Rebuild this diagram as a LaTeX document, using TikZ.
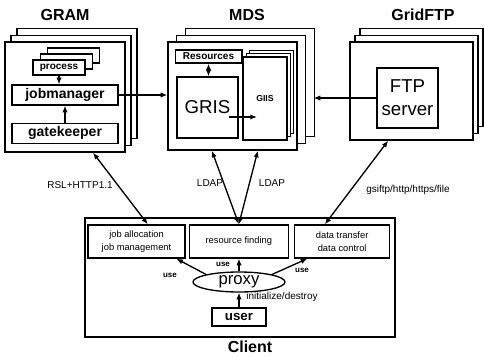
\documentclass[tikz,border=0pt]{standalone}
\usepackage{fontspec}
\setmainfont{Liberation Sans}
\usetikzlibrary{arrows.meta,positioning,shapes.geometric,shadows}

\begin{document}
\begin{tikzpicture}[
x=0.75pt, y=-0.75pt,
line width=1pt,
title/.style={font=\fontsize{12}{14}\selectfont\bfseries, inner sep=0pt},
group/.style={draw, fill=white, inner sep=0pt, double copy shadow={draw, fill=white, line width=1pt, shadow xshift=#1, shadow yshift=5pt}},
part/.style={draw, fill=white, inner sep=0pt, align=center},
tag/.style={font=\fontsize{7.5}{9}\selectfont, inner sep=1pt},
usetag/.style={font=\fontsize{6}{7}\selectfont\bfseries, inner sep=1pt},
arrow/.style={-{Latex[length=5pt,width=4pt]}},
both/.style={{Latex[length=5pt,width=4pt]}-{Latex[length=5pt,width=4pt]}}
]
\useasboundingbox (0,0) rectangle (484,356);
\node[title] (gramt) at (65,15) {GRAM};
\node[group=4.5pt, minimum width=90pt, minimum height=82.5pt] (gram) at (65,97) {};
\node[part, minimum width=39pt, minimum height=11.25pt, font=\fontsize{7.5}{9}\selectfont\bfseries,
  double copy shadow={draw, fill=white, line width=1pt, shadow xshift=5.5pt, shadow yshift=4.5pt}] (proc) at (59,67.5) {process};
\node[part, minimum width=79.5pt, minimum height=15pt, font=\fontsize{10.5}{12}\selectfont\bfseries] (jobmgr) at (65,95) {jobmanager};
\node[part, minimum width=79.5pt, minimum height=15pt, font=\fontsize{10.5}{12}\selectfont\bfseries, below=12.75pt of jobmgr] (gatekpr) {gatekeeper};

\node[title] (mdst) at (247,15) {MDS};
\node[group=6.5pt, minimum width=96.75pt, minimum height=81pt] (mds) at (232.5,96) {};
\node[part, minimum width=50pt, minimum height=9.75pt, font=\fontsize{7.5}{9}\selectfont\bfseries] (res) at (208.5,56.5) {Resources};
\node[part, minimum width=45.75pt, minimum height=45.75pt, font=\fontsize{14}{17}\selectfont] (gris) at (207.5,107.5) {GRIS};
\node[part, minimum width=33pt, minimum height=62.25pt, font=\fontsize{6.5}{8}\selectfont\bfseries,
  double copy shadow={draw, fill=white, line width=1pt, shadow xshift=2.5pt, shadow yshift=2.5pt}] (giis) at (265,98.5) {GIIS};

\node[title] (gridftpt) at (423,15) {GridFTP};
\node[group=3.75pt, minimum width=92.25pt, minimum height=73.5pt] (gridftp) at (411.5,91) {};
\node[part, minimum width=45.75pt, minimum height=45pt, font=\fontsize{14}{17}\selectfont] (ftp) at (407.5,98) {FTP\\server};

\node[draw, minimum width=232.5pt, minimum height=89.25pt] (client) at (240,277.5) {};
\node[title] (clientt) at (250,347) {Client};
\node[part, minimum width=72.75pt, minimum height=24.75pt, font=\fontsize{7}{10}\selectfont] (jobbox) at (136.5,241.5) {job allocation\\job management};
\node[part, minimum width=74.25pt, minimum height=24.75pt, font=\fontsize{7}{10}\selectfont, right=2.25pt of jobbox] (resfind) {resource finding};
\node[part, minimum width=71.25pt, minimum height=24.75pt, font=\fontsize{7}{10}\selectfont, right=3.75pt of resfind] (datactl) {data transfer\\data control};
\node[draw, ellipse, inner sep=0pt, minimum width=69pt, minimum height=15pt, font=\fontsize{12.5}{14}\selectfont] (proxy) at (239,282) {proxy};
\node[part, minimum width=40.5pt, minimum height=13.5pt, font=\fontsize{10}{12}\selectfont\bfseries, below=11pt of proxy] (user) {user};

\coordinate (giisin) at (257,117);
\draw[arrow] (proc.south) -- (proc.south |- jobmgr.north);
\draw[arrow] (gatekpr) -- (jobmgr);
\draw[arrow] (jobmgr.east) -- (jobmgr.east -| mds.west);
\draw[both] (res.south) -- (res.south |- gris.north);
\draw[arrow] ([xshift=-7pt]gris.east |- giisin) -- (giisin);
\draw[arrow] (ftp.west) -- ([xshift=12pt]ftp.west -| mds.east);
\draw[both] ([xshift=21pt]gram.south) -- ([xshift=8.5pt]jobbox.north);
\draw[both] ([xshift=-15.5pt]mds.south) -- (resfind.north);
\draw[both] ([xshift=19pt]mds.south) -- (resfind.north);
\draw[both] ([xshift=-17.5pt]gridftp.south) -- ([xshift=-13pt]datactl.north);
\draw[arrow] (proxy.north west) -- ([xshift=-7pt]jobbox.south east);
\draw[arrow] (proxy.north) -- (proxy.north |- resfind.south);
\draw[arrow] (proxy.north east) -- ([xshift=10pt]datactl.south west);
\draw[arrow] (user) -- (proxy);

\node[tag] (rsl) at (80,185) {RSL+HTTP1.1};
\node[tag] (ldapl) at (210,183) {LDAP};
\node[tag] (ldapr) at (272,183) {LDAP};
\node[tag] (gsiftp) at (408,190) {gsiftp/http/https/file};
\node[usetag] (usejob) at (170,275) {use};
\node[usetag] (useres) at (223,264) {use};
\node[usetag] (usedata) at (302,270) {use};
\node[tag] (initd) at (282,297) {initialize/destroy};
\end{tikzpicture}
\end{document}
